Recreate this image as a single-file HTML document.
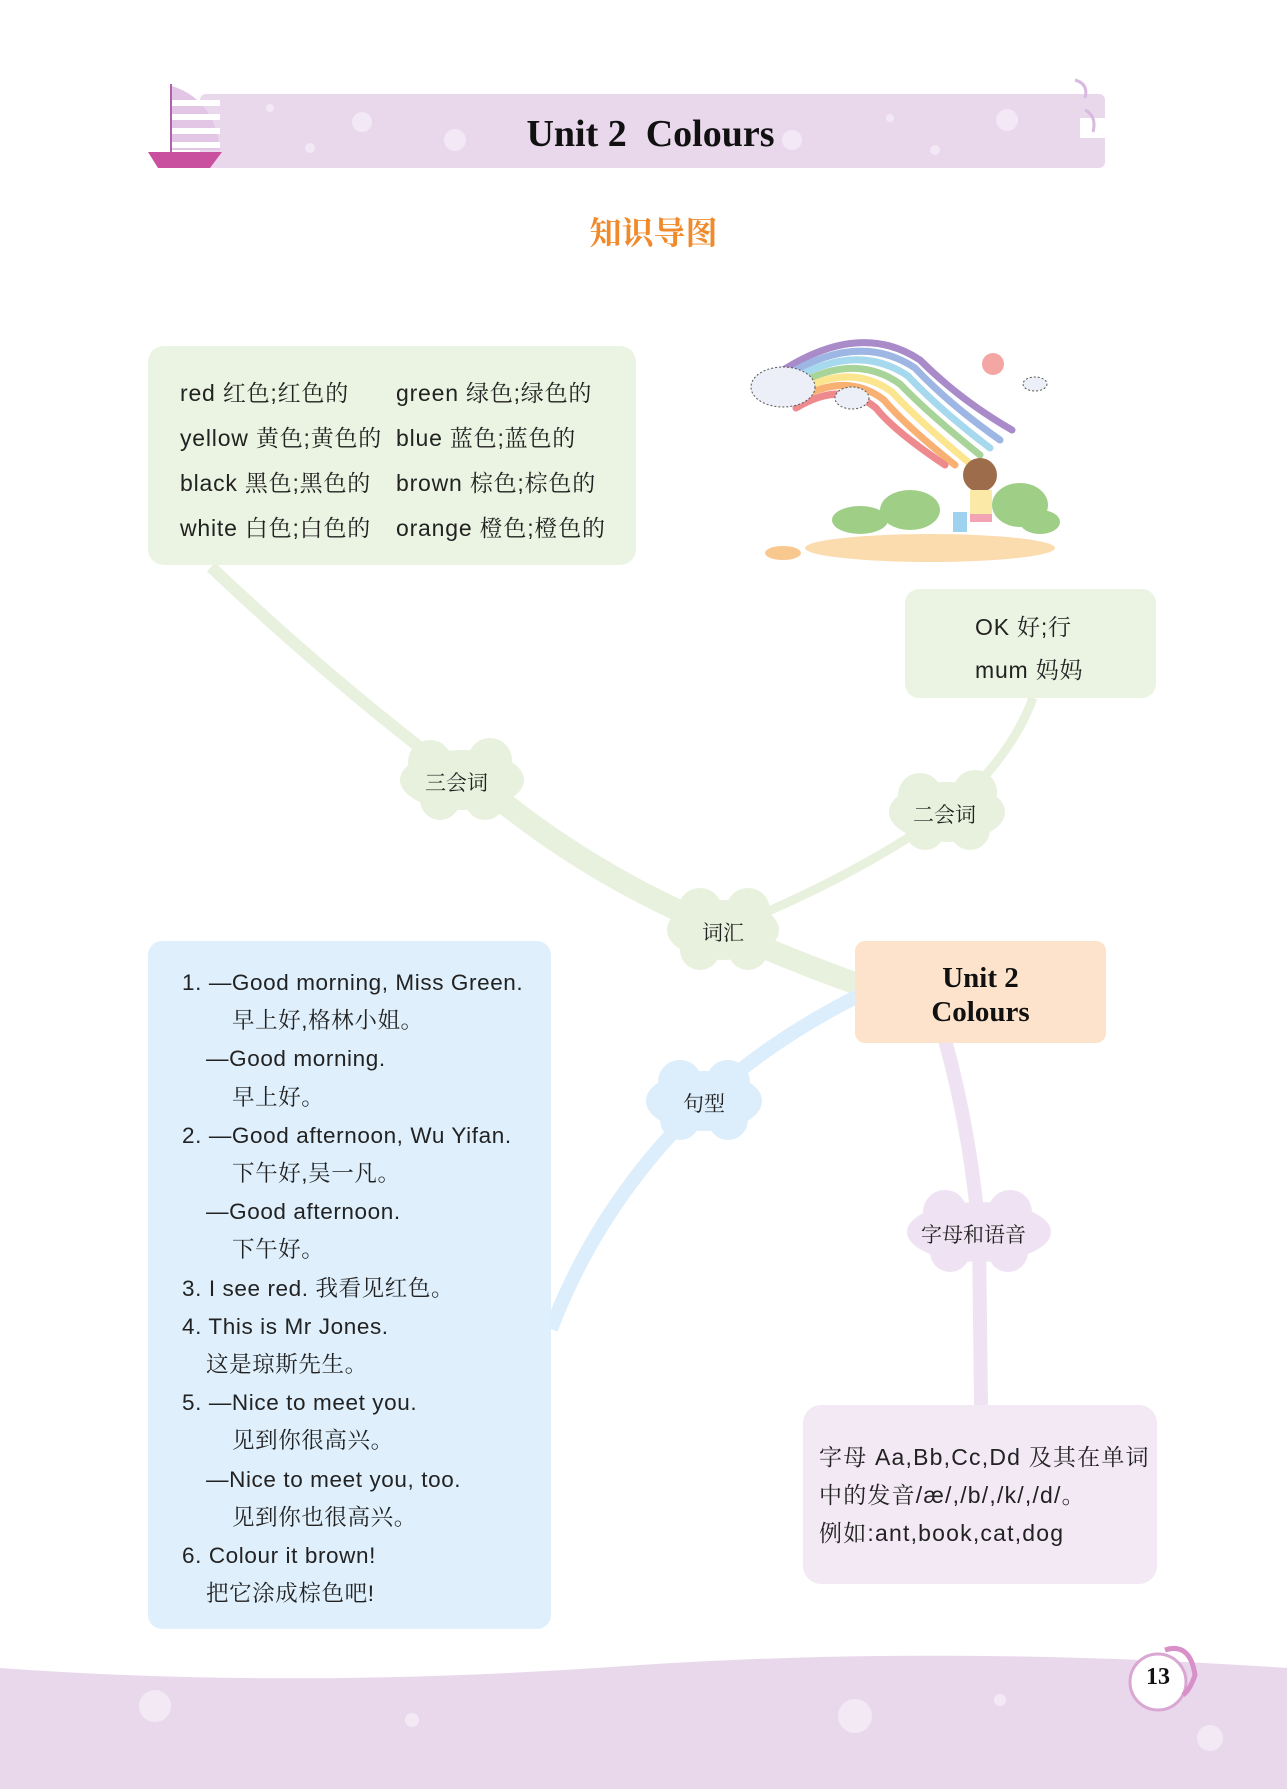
<!DOCTYPE html>
<html><head><meta charset="utf-8"><style>
body{margin:0;width:1287px;height:1789px;position:relative;background:#fff;overflow:hidden;font-family:"Liberation Sans","Noto Serif CJK SC",sans-serif;}
.a{position:absolute;}
.t{position:absolute;font-size:23px;letter-spacing:0.8px;color:#222;white-space:nowrap;}
</style></head><body>
<svg class="a" style="left:0;top:0" width="1287" height="1789">
<rect x="200" y="94" width="905" height="74" rx="6" fill="#e9d7ec"/>
<rect x="1080" y="118" width="25" height="20" fill="#fff"/>
<path d="M1075 80 q14 4 10 18 M1085 110 q12 6 8 22" stroke="#d9b9e0" stroke-width="3" fill="none"/>
<g fill="#f3e8f5"><circle cx="362" cy="122" r="10"/><circle cx="455" cy="140" r="11"/><circle cx="1007" cy="120" r="11"/><circle cx="792" cy="140" r="10"/><circle cx="270" cy="108" r="4"/><circle cx="310" cy="148" r="5"/><circle cx="890" cy="118" r="4"/><circle cx="935" cy="150" r="5"/></g>
<line x1="171" y1="84" x2="171" y2="155" stroke="#b062a8" stroke-width="2"/>
<path d="M172 86 Q215 100 220 150 L172 150 Z" fill="#e3c6e6"/>
<g fill="#fff"><rect x="172" y="100" width="48" height="6"/><rect x="172" y="114" width="48" height="6"/><rect x="172" y="128" width="48" height="6"/><rect x="172" y="142" width="48" height="6"/></g>
<path d="M148 152 L222 152 L210 168 L158 168 Z" fill="#c9509f"/>
<path d="M211 567 Q330 680 462 780 Q600 880 723 930 Q790 960 860 985" stroke="#e8f1dd" stroke-width="12" fill="none"/>
<path d="M500 800 Q600 880 723 930 Q790 960 860 985" stroke="#e8f1dd" stroke-width="22" fill="none"/>
<path d="M723 930 Q850 880 947 812 Q1010 760 1033 698" stroke="#e8f1dd" stroke-width="9" fill="none"/>
<path d="M860 995 Q770 1040 704 1101 Q600 1200 551 1329" stroke="#dcedfb" stroke-width="14" fill="none"/>
<path d="M945 1040 Q970 1130 979 1232 L981 1405" stroke="#efe3f3" stroke-width="14" fill="none"/>
<g fill="#e8f1dd">
<ellipse cx="462" cy="780" rx="62" ry="30"/><circle cx="430" cy="762" r="22"/><circle cx="490" cy="760" r="22"/><circle cx="440" cy="800" r="20"/><circle cx="485" cy="800" r="20"/>
<ellipse cx="947" cy="812" rx="58" ry="30"/><circle cx="920" cy="795" r="22"/><circle cx="975" cy="792" r="22"/><circle cx="925" cy="830" r="20"/><circle cx="970" cy="830" r="20"/>
<ellipse cx="723" cy="930" rx="56" ry="30"/><circle cx="700" cy="910" r="22"/><circle cx="748" cy="910" r="22"/><circle cx="700" cy="950" r="20"/><circle cx="748" cy="950" r="20"/>
</g>
<g fill="#dcedfb"><ellipse cx="704" cy="1101" rx="58" ry="30"/><circle cx="680" cy="1082" r="22"/><circle cx="728" cy="1082" r="22"/><circle cx="680" cy="1120" r="20"/><circle cx="728" cy="1120" r="20"/></g>
<g fill="#efe3f3"><ellipse cx="979" cy="1232" rx="72" ry="30"/><circle cx="945" cy="1212" r="22"/><circle cx="1010" cy="1212" r="22"/><circle cx="950" cy="1252" r="20"/><circle cx="1008" cy="1252" r="20"/></g>
<g fill="none" stroke-width="7" stroke-linecap="round">
<path d="M780 372 Q860 320 920 360 Q960 400 1012 430" stroke="#a98bc9"/>
<path d="M782 378 Q858 330 915 368 Q950 405 1000 440" stroke="#9eb6e3"/>
<path d="M785 384 Q855 340 908 376 Q940 410 990 448" stroke="#a6d8ee"/>
<path d="M788 390 Q852 350 900 384 Q930 415 980 455" stroke="#a8d49a"/>
<path d="M790 396 Q848 360 892 392 Q918 420 968 462" stroke="#fbe58f"/>
<path d="M793 402 Q845 370 884 400 Q905 425 955 465" stroke="#f8b173"/>
<path d="M796 408 Q842 380 876 408 Q893 430 945 465" stroke="#ee8a8e"/>
</g>
<g fill="#eceff8" stroke="#555" stroke-width="1" stroke-dasharray="2 2"><ellipse cx="783" cy="387" rx="32" ry="20"/><ellipse cx="852" cy="398" rx="17" ry="11"/><ellipse cx="1035" cy="384" rx="12" ry="7"/></g>
<circle cx="993" cy="364" r="11" fill="#f4a6a4"/>
<g fill="#9fcf87"><ellipse cx="860" cy="520" rx="28" ry="14"/><ellipse cx="910" cy="510" rx="30" ry="20"/><ellipse cx="1020" cy="505" rx="28" ry="22"/><ellipse cx="1040" cy="522" rx="20" ry="12"/></g>
<ellipse cx="930" cy="548" rx="125" ry="14" fill="#fbdcaf"/><ellipse cx="783" cy="553" rx="18" ry="7" fill="#f8c88e"/>
<circle cx="980" cy="475" r="17" fill="#9d6c4a"/><rect x="970" y="490" width="22" height="28" fill="#fbeaa7"/><rect x="970" y="514" width="22" height="8" fill="#f2a4b4"/><rect x="953" y="512" width="14" height="20" fill="#9fd2ee"/>
<path d="M0 1668 Q300 1690 640 1665 Q950 1645 1287 1668 L1287 1789 L0 1789 Z" fill="#e9d8ec"/>
<g fill="#f3e9f5"><circle cx="155" cy="1706" r="16"/><circle cx="855" cy="1716" r="17"/><circle cx="1210" cy="1738" r="13"/><circle cx="412" cy="1720" r="7"/><circle cx="1000" cy="1700" r="6"/></g>
<circle cx="1158" cy="1682" r="28" fill="#fff" stroke="#d9a7d2" stroke-width="3"/>
<path d="M1165 1650 q25 -8 30 25 q-5 15 -12 20" stroke="#d98fc8" stroke-width="5" fill="none"/>
</svg>
<div class="a" style="left:0;width:1287px;top:112px;text-align:center;font:bold 38px 'Liberation Serif',serif;color:#111;padding-left:14px;box-sizing:border-box">Unit 2&nbsp;&nbsp;Colours</div>
<div class="a" style="left:0;width:1287px;top:208px;text-align:center;font:bold 32px 'Noto Serif CJK SC',serif;color:#f08a2a;padding-left:20px;box-sizing:border-box">知识导图</div>
<div class="a" style="left:148px;top:346px;width:488px;height:219px;background:#ebf4e2;border-radius:16px"></div>
<div class="t" style="left:180px;top:375px">red 红色;红色的</div><div class="t" style="left:396px;top:375px">green 绿色;绿色的</div>
<div class="t" style="left:180px;top:420px">yellow 黄色;黄色的</div><div class="t" style="left:396px;top:420px">blue 蓝色;蓝色的</div>
<div class="t" style="left:180px;top:465px">black 黑色;黑色的</div><div class="t" style="left:396px;top:465px">brown 棕色;棕色的</div>
<div class="t" style="left:180px;top:510px">white 白色;白色的</div><div class="t" style="left:396px;top:510px">orange 橙色;橙色的</div>
<div class="a" style="left:905px;top:589px;width:251px;height:109px;background:#ebf4e2;border-radius:14px"></div>
<div class="t" style="left:975px;top:609px">OK 好;行</div><div class="t" style="left:975px;top:652px">mum 妈妈</div>
<div class="t" style="left:425px;top:767px;font-size:21px;letter-spacing:0">三会词</div>
<div class="t" style="left:913px;top:799px;font-size:21px;letter-spacing:0">二会词</div>
<div class="t" style="left:702px;top:917px;font-size:21px;letter-spacing:0">词汇</div>
<div class="t" style="left:683px;top:1088px;font-size:21px;letter-spacing:0">句型</div>
<div class="t" style="left:921px;top:1219px;font-size:21px;letter-spacing:0">字母和语音</div>
<div class="a" style="left:855px;top:941px;width:251px;height:102px;background:#fde3cc;border-radius:10px;font:bold 29px 'Liberation Serif',serif;color:#111;text-align:center;line-height:34px;padding-top:20px;box-sizing:border-box">Unit 2<br>Colours</div>
<div class="a" style="left:148px;top:941px;width:403px;height:688px;background:#dff0fc;border-radius:14px"></div>
<div class="a" style="left:182px;top:964px;font-size:22.5px;letter-spacing:0.6px;line-height:38.2px;color:#222;white-space:nowrap">
<div>1. —Good morning, Miss Green.</div>
<div style="padding-left:50px">早上好,格林小姐。</div>
<div style="padding-left:24px">—Good morning.</div>
<div style="padding-left:50px">早上好。</div>
<div>2. —Good afternoon, Wu Yifan.</div>
<div style="padding-left:50px">下午好,吴一凡。</div>
<div style="padding-left:24px">—Good afternoon.</div>
<div style="padding-left:50px">下午好。</div>
<div>3. I see red. 我看见红色。</div>
<div>4. This is Mr Jones.</div>
<div style="padding-left:24px">这是琼斯先生。</div>
<div>5. —Nice to meet you.</div>
<div style="padding-left:50px">见到你很高兴。</div>
<div style="padding-left:24px">—Nice to meet you, too.</div>
<div style="padding-left:50px">见到你也很高兴。</div>
<div>6. Colour it brown!</div>
<div style="padding-left:24px">把它涂成棕色吧!</div>
</div>
<div class="a" style="left:803px;top:1405px;width:354px;height:179px;background:#f3e9f5;border-radius:18px"></div>
<div class="a" style="left:819px;top:1438px;font-size:23px;letter-spacing:1.2px;line-height:38px;color:#222;white-space:nowrap">
<div>字母 Aa,Bb,Cc,Dd 及其在单词</div><div>中的发音/æ/,/b/,/k/,/d/。</div><div>例如:ant,book,cat,dog</div></div>
<div class="a" style="left:1130px;top:1664px;width:56px;text-align:center;font:bold 24px 'Liberation Serif',serif;color:#111">13</div>
</body></html>
